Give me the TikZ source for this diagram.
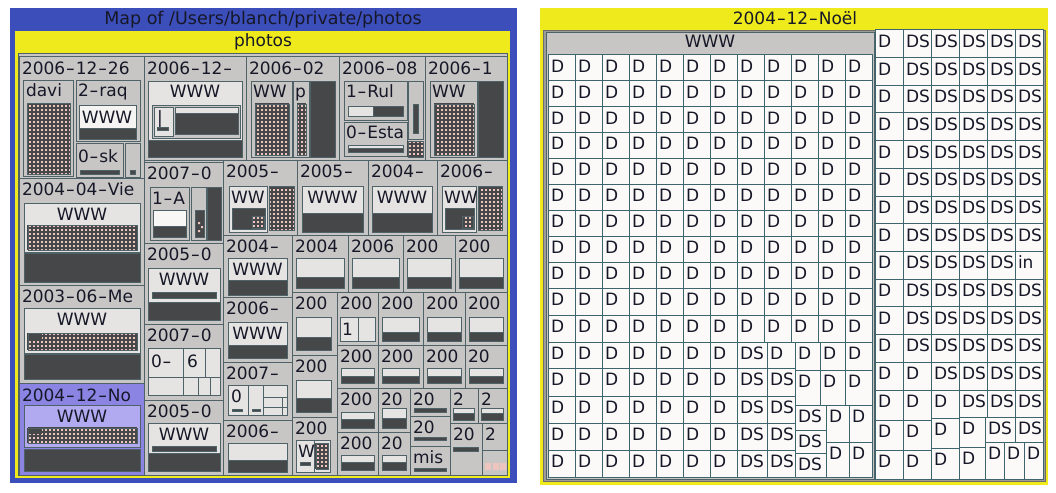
\documentclass[tikz,border=0pt]{standalone}
\usepackage{fontspec}
\usepackage{graphicx}
\setmainfont{DejaVu Sans}
\definecolor{blueF}{RGB}{60,78,186}
\definecolor{yelF}{RGB}{238,234,28}
\definecolor{grayC}{RGB}{200,198,196}
\definecolor{lightC}{RGB}{230,228,226}
\definecolor{darkC}{RGB}{70,71,73}
\definecolor{edgeC}{RGB}{78,98,104}
\definecolor{pinkC}{RGB}{238,196,190}
\definecolor{purpC}{RGB}{140,132,226}
\definecolor{lpurpC}{RGB}{178,170,240}
\definecolor{txtC}{RGB}{22,24,40}
\definecolor{frameC}{RGB}{158,156,152}
\definecolor{cellW}{RGB}{252,249,249}
\definecolor{cellE}{RGB}{62,100,110}
\tikzset{
 cellL/.style={draw=edgeC, fill=grayC, line width=1pt},
 boxL/.style={draw=edgeC, fill=lightC, line width=0.8pt},
 boxG/.style={draw=edgeC, fill=grayC, line width=0.8pt},
 darkF/.style={draw=edgeC, fill=darkC, line width=0.6pt},
 lab/.style={inner sep=0pt, outer sep=0pt, text=txtC, font=\fontsize{17}{17}\selectfont},
 cellR/.style={draw=cellE, fill=cellW, line width=1pt},
}
\newcounter{nn}
\newcommand\hy{\hbox to 0.62em{\hss\scalebox{1.5}[1]{-}\hss}}
\newcommand\lbl[3]{\stepcounter{nn}\node[lab,anchor=base west] (n\arabic{nn}) at ({#1},{#2}) {#3};}
\newcommand\clbl[3]{\stepcounter{nn}\node[lab,anchor=base] (n\arabic{nn}) at ({#1},{#2}) {#3};}
\newcommand\tc[5]{\draw[cellL] ({#1},{#2}) rectangle ({#3},{#4}); \lbl{#1+3}{#2+17.5}{#5}}
\newcommand\lbx[4]{\draw[boxL] ({#1},{#2}) rectangle ({#3},{#4});}
\newcommand\gbx[4]{\draw[boxG] ({#1},{#2}) rectangle ({#3},{#4});}
\newcommand\dkf[4]{\draw[darkF] ({#1},{#2}) rectangle ({#3},{#4});}
\newcommand\grd[4]{\fill[pinkC] ({#1},{#2}) rectangle ({#3},{#4});
  \draw[darkC,line width=1.1pt,step=4pt] ({#1},{#4}) grid ({#3},{#2});
  \draw[edgeC,line width=0.6pt] ({#1},{#2}) rectangle ({#3},{#4});}
\newcommand\ldb[5]{\lbx{#1}{#2}{#3}{#4}\dkf{#1}{#5}{#3}{#4}}
\newcommand\wbx[6]{\ldb{#1}{#2}{#3}{#4}{#5}\clbl{(#1+#3)/2}{#2+17}{#6}}
\newcommand\rc[5]{\draw[cellR] ({#1},{#2}) rectangle ({#3},{#4}); \lbl{#1+3}{#2+17.5}{#5}}
\begin{document}
\begin{tikzpicture}[x=1pt,y=-1pt]
\useasboundingbox (0,0) rectangle (1056,492);
\fill[white] (0,0) rectangle (1056,492);
% ===== left panel frames
\fill[blueF] (10,8) rectangle (517,483);
\stepcounter{nn}\node[lab,anchor=base,font=\fontsize{17.5}{17.5}\selectfont] (title) at (263,25) {Map of /Users/blanch/private/photos};
\fill[yelF] (15,31) rectangle (510,478);
\clbl{263}{47}{photos}
\draw[cellL] (18,54) rectangle (507,475);
% ----- top row
\tc{19}{57}{144}{178}{2006\hy12\hy26}
\gbx{23}{80}{73}{176} \lbl{26}{97}{davi} \grd{27}{103}{70}{174}
\gbx{76}{80}{140}{141} \lbl{78}{97}{2\hy raq}
\draw[boxL,fill=white!60!lightC] (79,105) rectangle (136,128); \clbl{107}{124}{WWW}
\dkf{79}{128}{136}{139}
\gbx{76}{143}{123}{177} \lbl{78}{162}{0\hy sk} \dkf{80}{170}{119}{174}
\gbx{125}{143}{140}{177} \dkf{130}{170}{135}{174}
\tc{144}{57}{246}{160}{2006\hy12\hy}
\lbx{148}{81}{242}{157} \clbl{195}{98}{WWW}
\gbx{152}{105}{240}{138}
\lbx{154}{107}{173}{136} \lbl{157}{124}{|} \dkf{157}{127}{168}{130}
\lbx{175}{107}{238}{113} \dkf{175}{113}{238}{134}
\dkf{148}{140}{242}{157}
\tc{246}{57}{339}{160}{2006\hy02}
\gbx{251}{81}{292}{157} \lbl{253}{98}{WW} \grd{255}{104}{289}{155}
\gbx{293}{81}{309}{157} \lbl{295}{98}{p} \grd{297}{104}{306}{155}
\dkf{310}{81}{335}{157}
\tc{339}{57}{425}{160}{2006\hy08}
\gbx{344}{81}{407}{120} \lbl{346}{98}{1\hy Rul} \lbx{348}{106}{373}{116} \dkf{373}{106}{403}{116}
\gbx{344}{122}{407}{156} \lbl{346}{139}{0\hy Esta} \lbx{348}{145}{403}{148} \dkf{348}{148}{403}{152}
\gbx{408}{81}{423}{139} \dkf{413}{104}{418}{133}
\grd{408}{141}{423}{157}
\tc{425}{57}{507}{160}{2006\hy1}
\gbx{430}{81}{477}{157} \lbl{432}{98}{WW} \grd{434}{104}{474}{155}
\dkf{478}{81}{503}{157}
% ----- left column
\tc{19}{178}{144}{285}{2004\hy04\hy Vie}
\lbx{24}{203}{140}{252} \clbl{82}{220}{WWW}
\grd{28}{225}{137}{250}
\dkf{24}{253}{140}{282}
\tc{19}{285}{144}{383}{2003\hy06\hy Me}
\lbx{24}{308}{140}{353} \clbl{82}{325}{WWW}
\grd{28}{333}{137}{350} \fill[darkC] (29,334) rectangle (42,340);
\dkf{24}{354}{140}{379}
\draw[cellL,fill=purpC] (19,383) rectangle (144,475); \lbl{22}{401}{2004\hy12\hy No}
\draw[boxL,fill=lpurpC] (24,405) rectangle (140,447); \clbl{82}{422}{WWW}
\grd{28}{428}{137}{443} \fill[darkC] (29,429) rectangle (42,434);
\dkf{24}{449}{140}{471}
% ----- middle column
\tc{144}{162}{223}{243}{2007\hy0}
\gbx{150}{187}{189}{240} \lbl{152}{204}{1\hy A}
\draw[boxL,fill=white!70!lightC] (153,210) rectangle (186,226); \dkf{153}{226}{186}{237}
\gbx{191}{187}{206}{240} \dkf{195}{210}{204}{237}
\fill[pinkC] (198,222) rectangle (200,224) (201,226) rectangle (203,228) (198,230) rectangle (200,232);
\dkf{207}{187}{221}{240}
\tc{144}{243}{223}{324}{2005\hy0}
\lbx{148}{268}{220}{320} \clbl{184}{285}{WWW} \dkf{152}{292}{216}{298} \dkf{148}{302}{220}{320}
\tc{144}{324}{223}{400}{2007\hy0}
\lbx{148}{348}{220}{395}
\draw[edgeC,line width=0.8pt] (148,377) -- (220,377) (183,348) -- (183,395) (205,348) -- (205,377) (198,377) -- (198,395) (210,377) -- (210,395);
\lbl{151}{367}{0\hy} \lbl{187}{367}{6}
\tc{144}{400}{223}{475}{2005\hy0}
\lbx{148}{423}{220}{471} \clbl{184}{440}{WWW} \dkf{152}{446}{216}{451} \dkf{148}{453}{220}{471}
% ----- row 160-235
\tc{223}{160}{297}{235}{2005\hy}
\lbx{229}{186}{267}{232} \lbl{231}{203}{WW} \dkf{232}{208}{265}{229} \grd{252}{216}{264}{228}
\grd{269}{186}{294}{230}
\tc{297}{160}{368}{235}{2005\hy} \wbx{302}{186}{363}{232}{213}{WWW}
\tc{368}{160}{437}{235}{2004\hy} \wbx{372}{186}{432}{232}{213}{WWW}
\tc{437}{160}{507}{235}{2006\hy}
\lbx{442}{186}{476}{232} \lbl{444}{203}{WW} \dkf{445}{208}{474}{229} \grd{462}{216}{473}{228}
\grd{478}{186}{502}{230}
% ----- row 235-292
\tc{223}{235}{292}{297}{2004\hy} \wbx{228}{258}{287}{295}{280}{WWW}
\tc{292}{235}{348}{292}{2004} \ldb{296}{258}{344}{288}{277}
\tc{348}{235}{403}{292}{2006} \ldb{352}{258}{399}{288}{277}
\tc{403}{235}{455}{292}{200} \ldb{407}{258}{451}{288}{277}
\tc{455}{235}{507}{292}{200} \ldb{459}{258}{503}{288}{277}
% ----- column 223-292
\tc{223}{297}{292}{362}{2006\hy} \wbx{228}{322}{287}{358}{345}{WWW}
\tc{223}{362}{292}{420}{2007\hy}
\lbx{228}{385}{287}{415}
\draw[edgeC,line width=0.8pt] (248,385)--(248,415) (263,385)--(263,415) (263,397)--(287,397) (263,407)--(287,407) (282,397)--(282,415);
\lbl{231}{402}{0} \dkf{232}{409}{242}{411} \dkf{252}{409}{260}{411}
\tc{223}{420}{292}{475}{2006\hy} \ldb{228}{443}{287}{472}{460}
% ----- column 292-337
\tc{292}{292}{337}{355}{200} \ldb{296}{317}{331}{350}{337}
\tc{292}{355}{337}{417}{200} \ldb{296}{380}{331}{412}{398}
\tc{292}{417}{337}{475}{200}
\lbx{296}{440}{330}{472} \draw[edgeC,line width=0.8pt] (314,440)--(314,472);
\lbl{298}{457}{W} \dkf{300}{462}{310}{465} \grd{316}{443}{328}{469}
% ----- small cells
\tc{337}{292}{378}{345}{200} \lbx{340}{317}{375}{341} \draw[edgeC,line width=0.8pt] (358,317)--(358,341); \lbl{342}{335}{1}
\tc{378}{292}{423}{345}{200} \ldb{382}{317}{419}{341}{332}
\tc{423}{292}{465}{345}{200} \ldb{427}{317}{461}{341}{332}
\tc{465}{292}{507}{345}{200} \ldb{469}{317}{503}{341}{332}
\tc{337}{345}{378}{388}{200} \ldb{341}{368}{374}{383}{376}
\tc{378}{345}{423}{388}{200} \ldb{382}{368}{419}{383}{376}
\tc{423}{345}{465}{388}{200} \ldb{427}{368}{461}{383}{376}
\tc{465}{345}{507}{388}{20} \ldb{469}{368}{503}{383}{376}
\tc{337}{388}{378}{432}{200} \ldb{341}{412}{374}{428}{419}
\tc{378}{388}{410}{432}{20} \ldb{382}{408}{406}{428}{418}
\tc{410}{388}{450}{416}{20} \dkf{414}{408}{446}{412}
\tc{450}{388}{478}{423}{2} \ldb{453}{408}{474}{420}{413}
\tc{478}{388}{507}{423}{2} \ldb{481}{408}{503}{420}{413}
\tc{337}{432}{378}{475}{200} \ldb{341}{455}{374}{470}{462}
\tc{378}{432}{410}{475}{20} \ldb{382}{455}{406}{470}{462}
\tc{410}{416}{450}{446}{20} \dkf{414}{437}{446}{440}
\tc{410}{446}{450}{475}{mis} \dkf{414}{468}{446}{471}
\tc{450}{423}{482}{475}{20} \dkf{453}{447}{478}{451}
\tc{482}{423}{507}{450}{2}
\draw[cellL] (482,450) rectangle (507,475);
\fill[pinkC] (485,463) rectangle (491,470) (493,463) rectangle (499,470) (500,463) rectangle (506,470);
% ===== right panel
\fill[yelF] (540,8) rectangle (1048,485);
\clbl{795}{25}{2004\hy12\hy Noël}
\draw[fill=frameC,draw=frameC!70!black] (543,30) rectangle (1045,481);
\draw[fill=grayC,draw=edgeC] (546,32) rectangle (874,479);
\clbl{710}{48}{WWW}
\foreach \ya/\yb in {55/81,81/107,107/132,132/158,158/184,184/210,210/236,236/262,262/288,288/315,315/342}
 {\foreach \xa in {548,575,...,845} {\rc{\xa}{\ya}{\xa+27}{\yb}{D}}}
\foreach \ya/\yb in {342/368,368/396,396/423,423/450,450/477}
 {\foreach \xa in {548,575,...,710} {\rc{\xa}{\ya}{\xa+27}{\yb}{D}}
  \rc{737}{\ya}{767}{\yb}{DS}}
\rc{767}{342}{795}{368}{D}
\foreach \ya/\yb in {368/396,396/423,423/450,450/477} {\rc{767}{\ya}{795}{\yb}{DS}}
\rc{795}{342}{820}{370}{D} \rc{820}{342}{845}{370}{D} \rc{845}{342}{872}{370}{D}
\rc{795}{370}{820}{405}{D} \rc{820}{370}{845}{405}{D} \rc{845}{370}{872}{405}{D}
\rc{795}{405}{826}{430}{DS} \rc{795}{430}{826}{453}{DS} \rc{795}{453}{826}{477}{DS}
\rc{826}{405}{849}{442}{D} \rc{849}{405}{872}{442}{D} \rc{826}{442}{849}{477}{D} \rc{849}{442}{872}{477}{D}
% right region
\foreach \ya/\yb in {30/57.7,57.7/85.3,85.3/113,113/140.7,140.7/168.3,168.3/196,196/223.7,223.7/251.3,279/306.7,306.7/334.3,334.3/362}
 {\rc{875}{\ya}{903}{\yb}{D}
  \foreach \xa in {903,931,959,987,1015} {\rc{\xa}{\ya}{\xa+28}{\yb}{DS}}}
\rc{875}{251.3}{903}{279}{D}
\foreach \xa in {903,931,959,987} {\rc{\xa}{251.3}{\xa+28}{279}{DS}}
\rc{1015}{251.3}{1043}{279}{in}
\rc{875}{362}{903}{390}{D} \rc{903}{362}{931}{390}{D}
\foreach \xa in {931,959,987,1015} {\rc{\xa}{362}{\xa+28}{390}{DS}}
\rc{875}{390}{903}{420}{D} \rc{903}{390}{931}{420}{D} \rc{931}{390}{959}{418}{D}
\rc{959}{390}{987}{417}{DS} \rc{987}{390}{1015}{417}{DS} \rc{1015}{390}{1043}{417}{DS}
\rc{875}{420}{903}{450}{D} \rc{903}{420}{931}{450}{D} \rc{931}{418}{959}{448}{D}
\rc{959}{417}{985}{447}{D} \rc{985}{417}{1015}{442}{DS} \rc{1015}{417}{1043}{442}{DS}
\rc{875}{450}{903}{479}{D} \rc{903}{450}{931}{479}{D} \rc{931}{448}{959}{479}{D}
\rc{959}{447}{985}{479}{D} \rc{985}{442}{1004}{479}{D} \rc{1004}{442}{1024}{479}{D} \rc{1024}{442}{1043}{479}{D}
\end{tikzpicture}
\end{document}
